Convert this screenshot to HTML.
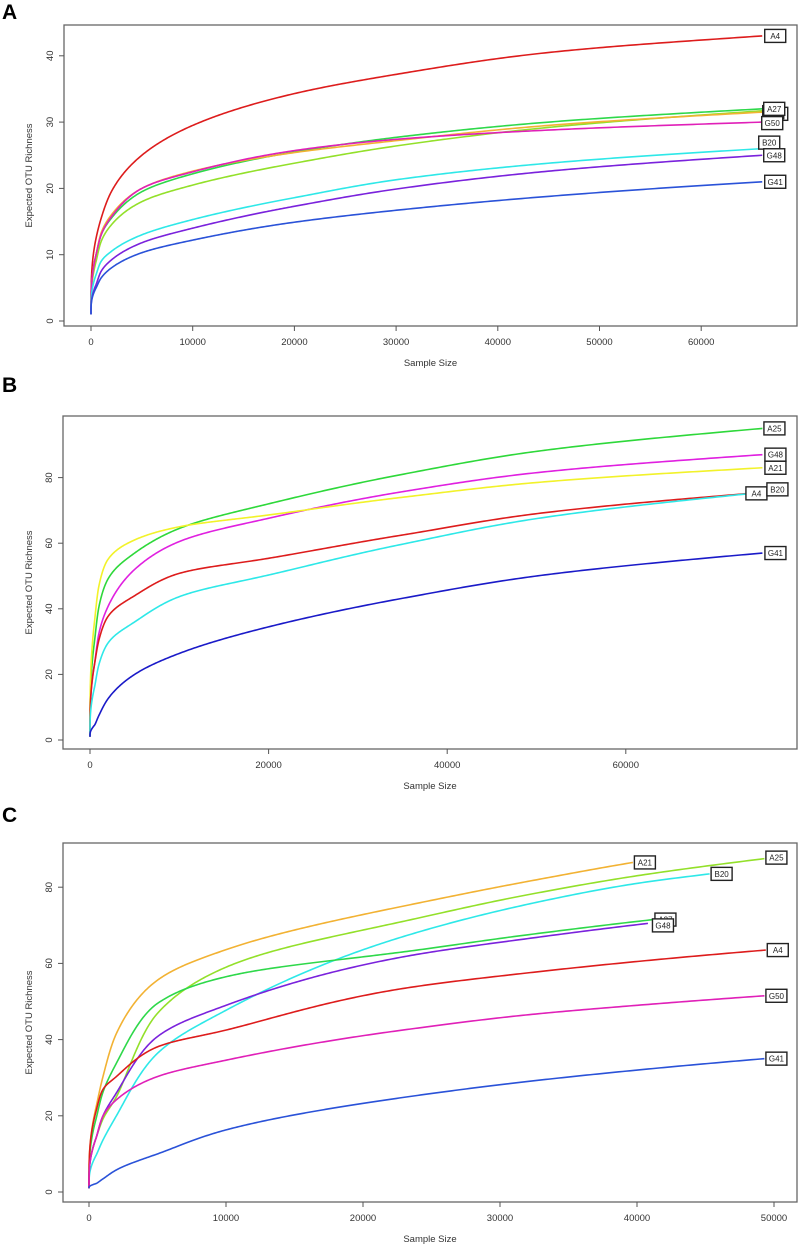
<!DOCTYPE html>
<html><head><meta charset="utf-8">
<style>
html,body{margin:0;padding:0;background:#fff;}
body{width:803px;height:1247px;overflow:hidden;font-family:"Liberation Sans",Arial,sans-serif;}
svg text{font-family:"Liberation Sans",Arial,sans-serif;}
</style></head>
<body>
<svg id="fig" width="803" height="1247" viewBox="0 0 803 1247" xmlns="http://www.w3.org/2000/svg"></svg>
<script>
// ---------- Panel A data ----------
const aSampleX = [0, 500, 1000, 2000, 5000, 10000, 20000, 30000, 45000, 66000];
const aNames = ["A4", "A27", "A25", "A21", "G50", "B20", "G48", "G41"];
const aA4  = [1, 12.5, 15.5, 19.5, 25, 29.5, 34.3, 37.2, 40.5, 43];
const aA27 = [1, 10, 13, 15.5, 19.5, 22.2, 25.5, 27.7, 30, 32];
const aA25 = [1, 9, 12, 14.5, 18, 20.5, 23.8, 26.4, 29.2, 31.7];
const aA21 = [1, 10, 13.3, 16, 20, 22.6, 25.4, 27.2, 29.5, 31.5];
const aG50 = [1, 10, 13, 15.7, 20, 22.5, 25.7, 27.4, 28.8, 30];
const aB20 = [1, 7, 9, 10.5, 13, 15.3, 18.6, 21.3, 23.8, 26];
const aG48 = [1, 5.5, 7.5, 9.2, 11.8, 14, 17.3, 19.9, 22.6, 25];
const aG41 = [1, 5, 6.5, 8, 10.3, 12.2, 14.9, 16.7, 18.8, 21];
const aXTicks = [0, 10000, 20000, 30000, 40000, 50000, 60000];
const aYTicks = [0, 10, 20, 30, 40];

// ---------- Panel B data ----------
const bSampleX = [0, 500, 1000, 2000, 5000, 10000, 20000, 35000, 50000, 75300];
const bNames = ["A25", "G48", "A21", "A4", "B20", "G41"];
const bA25 = [1, 30, 40.6, 49, 57, 64.5, 72, 81, 88, 95];
const bG48 = [1, 23, 32.5, 40.6, 52, 60.5, 67.6, 75.7, 81.5, 87];
const bA21 = [1, 36, 47, 55, 61, 65, 68.6, 74, 78.5, 83];
const bA4  = [1, 23, 30.5, 37.6, 44, 50.8, 55.4, 62.5, 69, 75.5];
const bB20 = [1, 16, 23, 29.5, 36, 43.7, 50.3, 59.7, 67.5, 75.5];
const bG41 = [1, 4.5, 7.5, 12.5, 20, 26.4, 34.5, 43.2, 50, 57];
const bXTicks = [0, 20000, 40000, 60000];
const bYTicks = [0, 20, 40, 60, 80];

// ---------- Panel C data ----------
const cSampleX = [0, 500, 1000, 2000, 5000, 10000, 22900, 32000, 40000, 49300];
const cNames = ["A21", "A25", "B20", "A27", "G48", "A4", "G50", "G41"];
const cEndX = [39700, 49300, 45300, 41200, 40800, 49400, 49300, 49300];
const cA21 = [1, 22, 30, 41.6, 55.6, 63.6, 75, 81.5, 86.5, 86.5];
const cA25 = [1, 14, 19, 25, 46.9, 59, 71, 78, 83, 87.5];
const cB20 = [1, 9.5, 13.5, 20, 36.4, 47.7, 67, 75.5, 81, 83.5];
const cA27 = [1, 19, 26, 33.8, 49.5, 56.5, 63, 67.5, 71.3, 71.5];
const cG48 = [1, 14, 19.8, 26, 40.8, 49, 61.7, 66.5, 70.3, 70.5];
const cA4  = [1, 21, 26.8, 30.3, 38.1, 42.5, 53.4, 57.5, 60.5, 63.5];
const cG50 = [1, 14, 19.8, 24.2, 30.3, 34.6, 42.5, 46.5, 49, 51.5];
const cG41 = [1, 2.2, 3.4, 5.8, 10, 16.3, 24.8, 29, 32, 35];
const cXTicks = [0, 10000, 20000, 30000, 40000, 50000];
const cYTicks = [0, 20, 40, 60, 80];

const NS = "http://www.w3.org/2000/svg";
const svg = document.getElementById("fig");
function mk(tag, attrs, parent) {
  const e = document.createElementNS(NS, tag);
  for (const k in attrs) e.setAttribute(k, attrs[k]);
  (parent || svg).appendChild(e);
  return e;
}
const POW = 0.3;
function monotone(xr, ys) {
  const xs = xr.map(v => Math.pow(v, POW));
  const n = xs.length, d = [], m = [];
  for (let i = 0; i < n - 1; i++) d.push((ys[i + 1] - ys[i]) / (xs[i + 1] - xs[i]));
  m[0] = d[0]; m[n - 1] = d[n - 2];
  for (let i = 1; i < n - 1; i++) m[i] = (d[i - 1] * d[i] <= 0) ? 0 : 2 / (1 / d[i - 1] + 1 / d[i]);
  return function (xv) {
    const x = Math.pow(xv, POW);
    let i = 0;
    while (i < n - 2 && x > xs[i + 1]) i++;
    const h = xs[i + 1] - xs[i], t = (x - xs[i]) / h;
    const t2 = t * t, t3 = t2 * t;
    return (2 * t3 - 3 * t2 + 1) * ys[i] + (t3 - 2 * t2 + t) * h * m[i] + (-2 * t3 + 3 * t2) * ys[i + 1] + (t3 - t2) * h * m[i + 1];
  };
}

function drawPanel(p) {
  const g = mk("g", {});
  
  
  const xs = v => p.x0 + v * p.xk;
  const ys = v => p.y0 - v * p.yk;
  const letter = mk("text", {x: 2, y: p.letterY, "font-size": 21, "font-weight": "bold", fill: "#000"}, g);
  letter.textContent = p.letter;
  
  
  const box = mk("rect", {x: p.L, y: p.T, width: p.R - p.L, height: p.B - p.T, fill: "none", stroke: "#666", "stroke-width": 1.3}, g);
  
  
  p.xt.forEach(v => {
    mk("line", {x1: xs(v), x2: xs(v), y1: p.B, y2: p.B + 5, stroke: "#555", "stroke-width": 1}, g);
    const t = mk("text", {x: xs(v), y: p.B + 19, "font-size": 9.5, "text-anchor": "middle", fill: "#333"}, g);
    t.textContent = v;
    
    
  });
  p.yt.forEach(v => {
    mk("line", {x1: p.L - 5, x2: p.L, y1: ys(v), y2: ys(v), stroke: "#555", "stroke-width": 1}, g);
    const t = mk("text", {x: 0, y: 0, "font-size": 9.5, "text-anchor": "middle", fill: "#333", transform: `translate(${p.L - 11},${ys(v)}) rotate(-90)`}, g);
    t.textContent = v;
    
    
  });
  const xt = mk("text", {x: (p.L + p.R) / 2, y: p.B + 40, "font-size": 9.5, "text-anchor": "middle", fill: "#333"}, g);
  xt.textContent = "Sample Size";
  
  
  const yt = mk("text", {x: 0, y: 0, "font-size": 9.5, "text-anchor": "middle", fill: "#333", transform: `translate(32,${(p.T + p.B) / 2}) rotate(-90)`}, g);
  yt.textContent = "Expected OTU Richness";
  
  

  p.series.forEach((vals, i) => {
    const n = p.sx.length;
    const endX = p.ends ? p.ends[i] : p.sx[n - 1];
    const px = [], py = [];
    for (let k = 0; k < n - 1; k++) {
      if (p.sx[k] < endX - 3000) { px.push(p.sx[k]); py.push(vals[k]); }
    }
    px.push(endX); py.push(vals[n - 1]);
    const f = monotone(px, py);
    let d = "";
    const N = 400;
    for (let k = 0; k <= N; k++) {
      const x = Math.pow(k / N, 2.5) * endX;
      d += (k ? "L" : "M") + xs(x).toFixed(2) + "," + ys(f(x)).toFixed(2);
    }
    const path = mk("path", {d: d, fill: "none", stroke: p.colors[i], "stroke-width": 1.6, "stroke-linejoin": "round"}, g);
    
    
  });
  p.order.forEach(i => {
    const vals = p.series[i];
    const ex = p.ends ? p.ends[i] : p.sx[p.sx.length - 1];
    const off = p.offs[i] || [0, 0];
    const cx = xs(ex) + 11 + off[0], cy = ys(vals[vals.length - 1]) + off[1];
    const r = mk("rect", {x: cx - 10.5, y: cy - 6.5, width: 21, height: 13, fill: "#fff", stroke: "#222", "stroke-width": 1.4}, g);
    
    
    const t = mk("text", {x: cx, y: cy + 3, "font-size": 8, "text-anchor": "middle", fill: "#222"}, g);
    t.textContent = p.names[i];
    
    
  });
}

drawPanel({
  name: "panel-a", letter: "A", letterY: 19,
  L: 64, T: 25, R: 797, B: 326, x0: 91, xk: 0.01017, y0: 321, yk: 6.63,
  xt: aXTicks, yt: aYTicks, sx: aSampleX, names: aNames,
  series: [aA4, aA27, aA25, aA21, aG50, aB20, aG48, aG41],
  colors: ["#dd1c1c", "#2ed84a", "#93e02a", "#f2b233", "#e020b8", "#2ee8e8", "#7a22dc", "#2a52d8"],
  offs: [[2, 0], [1, 0], [4, 3], [0, 0], [-1, 1], [-4, -6], [1, 0], [2, 0]],
  order: [2, 3, 1, 4, 0, 5, 6, 7]
});
drawPanel({
  name: "panel-b", letter: "B", letterY: 392,
  L: 63, T: 416, R: 797, B: 749, x0: 90, xk: 0.00893, y0: 740, yk: 3.28,
  xt: bXTicks, yt: bYTicks, sx: bSampleX, names: bNames,
  series: [bA25, bG48, bA21, bA4, bB20, bG41],
  colors: ["#2ed83a", "#e020e0", "#f2f22a", "#dd1c1c", "#2ee8e8", "#1a1ac8"],
  offs: [[1, 0], [2, 0], [2, 0], [-17, 1], [4, -3], [2, 0]],
  order: [0, 1, 2, 3, 4, 5]
});
drawPanel({
  name: "panel-c", letter: "C", letterY: 822,
  L: 63, T: 843, R: 797, B: 1202, x0: 89, xk: 0.0137, y0: 1192, yk: 3.81,
  xt: cXTicks, yt: cYTicks, sx: cSampleX, names: cNames, ends: cEndX,
  series: [cA21, cA25, cB20, cA27, cG48, cA4, cG50, cG41],
  colors: ["#f2b233", "#93e02a", "#2ee8e8", "#2ed84a", "#7a22dc", "#dd1c1c", "#e020b8", "#2a52d8"],
  offs: [[1, 0], [1, -1], [1, 0], [1, 0], [4, 2], [1, 0], [1, 0], [1, 0]],
  order: [0, 1, 2, 3, 4, 5, 6, 7]
});
</script>
</body></html>
